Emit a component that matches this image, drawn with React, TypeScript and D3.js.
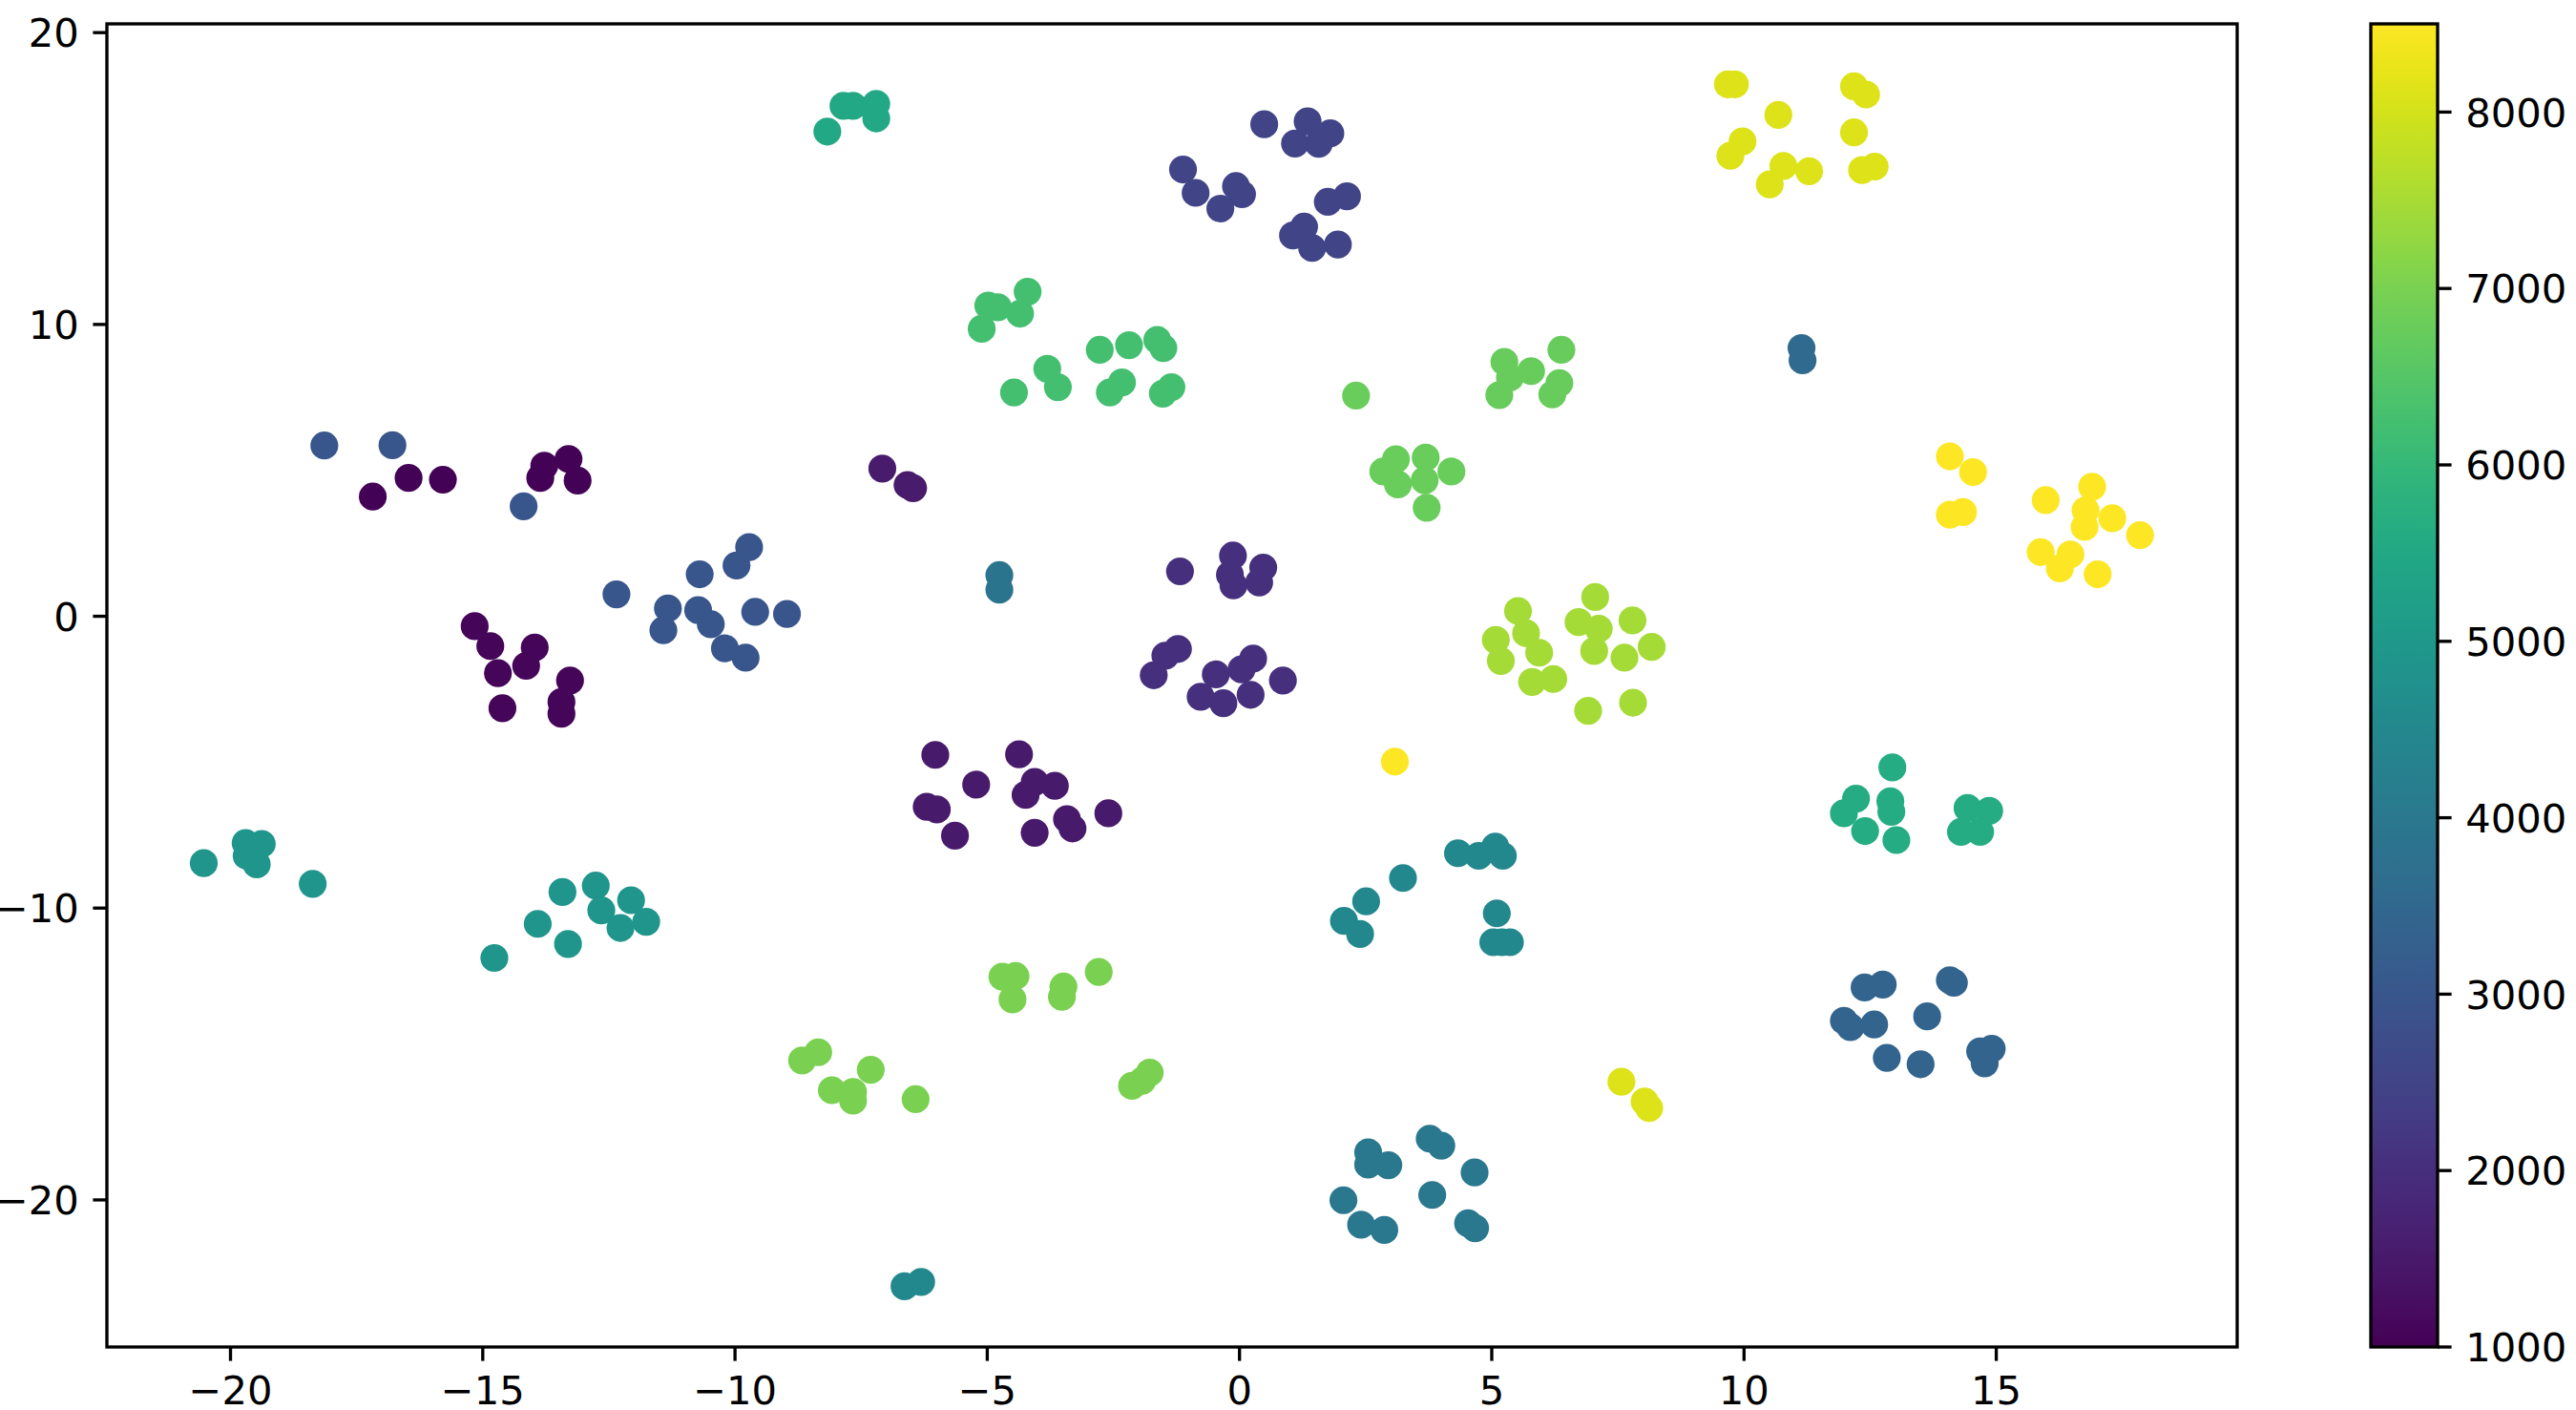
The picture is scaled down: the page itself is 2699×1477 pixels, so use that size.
import React from 'react';
import * as d3 from 'd3';

// t-SNE-like 2D embedding points (x, y) with a color value per point
const xValues = [
  -18.14, -16.79, -14.19,
  -17.18, -16.47, -15.79, -13.78, -13.86, -13.30, -13.12,
  -12.35, -11.33, -11.42, -10.70, -10.73, -10.48, -9.97, -9.72, -9.60, -8.97, -10.20, -9.79,
  -15.16, -14.85, -13.97, -14.70, -14.14, -13.27, -14.61, -13.44, -13.44,
  -20.53, -19.70, -19.38, -19.68, -19.48, -18.37,
  -13.42, -12.76, -12.06, -12.65, -13.91, -12.27, -11.76, -13.31, -14.77,
  -8.67, -8.35, -7.31, -8.08, -7.66, -7.66, -6.42,
  -4.70, -4.44, -4.50, -3.49, -3.52, -2.79,
  -2.13, -1.93, -1.78,
  -6.03, -4.37, -5.22, -4.06, -3.66, -4.24, -6.20, -6.00, -5.64, -3.42, -3.31, -4.06, -2.60,
  3.08,
  4.33, 4.74, 5.07, 5.22, 3.24, 2.51, 2.07, 2.39, 5.10, 5.03, 5.20, 5.36,
  3.77, 4.00, 2.55, 2.55, 2.95, 4.66, 2.06, 3.82, 2.41, 2.87, 4.53, 4.67,
  -6.64, -6.31,
  -8.17, -7.85, -7.66, -7.20, -7.20,
  0.49, 1.35, 1.10, 1.57, 1.80, -1.12, -0.87, -0.07, 0.05, -0.38, 1.75, 2.13, 1.28, 1.06, 1.44, 1.95,
  -4.98, -4.79, -4.20, -4.35, -5.11, -2.77, -2.19, -1.63, -1.51, -3.81, -3.60, -4.47, -2.33, -2.57, -1.35, -1.52,
  2.31, 3.10, 2.85, 3.14, 3.69, 3.67, 4.20, 3.71,
  5.25, 5.36, 5.15, 5.78, 6.38, 6.34, 6.20,
  -1.18, -0.13, -0.19, -0.12, 0.47, 0.39, -1.22, -1.47, -1.70, -0.47, 0.04, 0.27, 0.86, -0.77, -0.32, 0.22,
  -7.08, -6.58, -6.47,
  -4.76, -4.76,
  9.68, 9.82, 10.68, 9.97, 9.73, 10.78, 10.51, 11.29, 12.18, 12.42, 12.18, 12.34, 12.59,
  11.14, 11.16,
  14.08, 14.54, 14.08, 14.34, 15.98, 16.90, 16.77, 16.75, 17.30, 17.85, 15.88, 16.47, 16.26, 17.01,
  5.52, 5.68, 5.08, 5.18, 5.94, 5.80, 6.22, 7.05, 6.72, 7.12, 7.79, 7.03, 7.63, 8.17, 6.91, 7.80,
  12.94, 12.22, 11.98, 12.40, 12.90, 12.92, 13.02, 14.43, 14.86, 14.30, 14.68,
  12.39, 12.75, 14.08, 14.16, 11.98, 12.11, 12.58, 13.63, 12.83, 13.50, 14.68, 14.91, 14.77,
  7.57, 8.03, 8.12,
];

const yValues = [
  5.85, 5.86, 3.77,
  4.10, 4.74, 4.68, 5.16, 4.74, 5.39, 4.65,
  0.75, 0.27, -0.48, 1.44, 0.21, -0.27, 1.74, 2.37, 0.15, 0.08, -1.10, -1.42,
  -0.34, -1.02, -1.07, -1.95, -1.70, -2.20, -3.15, -2.94, -3.34,
  -8.46, -7.77, -7.80, -8.21, -8.50, -9.17,
  -9.45, -9.23, -9.73, -10.08, -10.54, -10.68, -10.47, -11.23, -11.71,
  -15.22, -14.94, -15.54, -16.24, -16.30, -16.60, -16.55,
  -12.35, -12.33, -13.13, -12.69, -13.04, -12.19,
  -16.09, -15.92, -15.64,
  -4.75, -4.73, -5.77, -5.68, -5.81, -6.12, -6.53, -6.62, -7.52, -6.95, -7.27, -7.42, -6.75,
  -4.98,
  -8.12, -8.21, -7.89, -8.21, -8.97, -9.77, -10.44, -10.89, -10.18, -11.17, -11.17, -11.17,
  -17.90, -18.14, -18.37, -18.79, -18.81, -19.06, -20.01, -19.83, -20.85, -21.03, -20.80, -20.97,
  -22.96, -22.81,
  16.61, 17.49, 17.49, 17.56, 17.06,
  16.86, 16.96, 16.20, 16.19, 16.55, 15.31, 14.51, 14.74, 14.46, 13.97, 14.20, 14.39, 13.35, 13.05, 12.62, 12.74,
  10.65, 10.59, 11.12, 10.37, 9.85, 9.13, 9.29, 9.47, 9.19, 8.48, 7.85, 7.67, 8.01, 7.67, 7.85, 7.63,
  7.56, 5.38, 4.96, 4.52, 5.44, 4.66, 4.96, 3.72,
  8.72, 8.18, 7.58, 8.40, 9.13, 7.99, 7.60,
  1.54, 2.08, 1.42, 1.06, 1.67, 1.16, -1.12, -1.35, -2.02, -1.99, -1.82, -1.45, -2.20, -2.76, -2.98, -2.69,
  5.06, 4.50, 4.39,
  1.41, 0.91,
  18.23, 18.23, 17.18, 16.27, 15.78, 15.43, 14.80, 15.25, 18.16, 17.88, 16.58, 15.29, 15.41,
  9.19, 8.77,
  5.48, 4.94, 3.48, 3.57, 3.98, 4.44, 3.63, 3.06, 3.36, 2.78, 2.20, 2.12, 1.64, 1.44,
  0.18, -0.58, -0.81, -1.53, -1.25, -2.25, -2.15, 0.66, -0.20, -0.43, -0.14, -1.19, -1.42, -1.05, -3.24, -2.96,
  -5.18, -6.25, -6.75, -7.36, -6.34, -6.70, -7.67, -6.57, -6.67, -7.39, -7.39,
  -12.72, -12.62, -12.47, -12.56, -13.86, -14.08, -13.99, -13.71, -15.13, -15.35, -14.91, -14.82, -15.32,
  -15.95, -16.63, -16.85,
];

const colorValues = [
  3000, 3000, 3000,
  1050, 1050, 1050, 1050, 1050, 1050, 1050,
  3000, 3000, 3000, 3000, 3000, 3000, 3000, 3000, 3000, 3000, 3000, 3000,
  1100, 1100, 1100, 1100, 1100, 1100, 1100, 1100, 1100,
  4900, 4900, 4900, 4900, 4900, 4900,
  4900, 4900, 4900, 4900, 4900, 4900, 4900, 4900, 4900,
  7000, 7000, 7000, 7000, 7000, 7000, 7000,
  7000, 7000, 7000, 7000, 7000, 7000,
  7000, 7000, 7000,
  1500, 1500, 1500, 1500, 1500, 1500, 1500, 1500, 1500, 1500, 1500, 1500, 1500,
  8500,
  4500, 4500, 4500, 4500, 4500, 4500, 4500, 4500, 4500, 4500, 4500, 4500,
  4000, 4000, 4000, 4000, 4000, 4000, 4000, 4000, 4000, 4000, 4000, 4000,
  4500, 4500,
  5500, 5500, 5500, 5500, 5500,
  2500, 2500, 2500, 2500, 2500, 2500, 2500, 2500, 2500, 2500, 2500, 2500, 2500, 2500, 2500, 2500,
  6250, 6250, 6250, 6250, 6250, 6250, 6250, 6250, 6250, 6250, 6250, 6250, 6250, 6250, 6250, 6250,
  6800, 6800, 6800, 6800, 6800, 6800, 6800, 6800,
  6750, 6750, 6750, 6750, 6750, 6750, 6750,
  2050, 2050, 2050, 2050, 2050, 2050, 2050, 2050, 2050, 2050, 2050, 2050, 2050, 2050, 2050, 2050,
  1550, 1550, 1550,
  3900, 3900,
  8100, 8100, 8100, 8100, 8100, 8100, 8100, 8100, 8100, 8100, 8100, 8100, 8100,
  3550, 3550,
  8500, 8500, 8500, 8500, 8500, 8500, 8500, 8500, 8500, 8500, 8500, 8500, 8500, 8500,
  7500, 7500, 7500, 7500, 7500, 7500, 7500, 7500, 7500, 7500, 7500, 7500, 7500, 7500, 7500, 7500,
  5600, 5600, 5600, 5600, 5600, 5600, 5600, 5600, 5600, 5600, 5600,
  3400, 3400, 3400, 3400, 3400, 3400, 3400, 3400, 3400, 3400, 3400, 3400, 3400,
  8100, 8100, 8100,
];

const xTicks = [-20, -15, -10, -5, 0, 5, 10, 15];
const yTicks = [-20, -10, 0, 10, 20];
const colorTicks = [1000, 2000, 3000, 4000, 5000, 6000, 7000, 8000];

const xDomain = [-22.45, 19.775];
const yDomain = [-25.04, 20.3];
const colorDomain = [1000, 8500];

export default function App() {
  const W = 2699;
  const H = 1477;
  const left = 112, right = 2344, top = 25, bottom = 1411;
  const cbLeft = 2484, cbRight = 2554;
  const fontSize = 41.67;
  const tickLen = 14.6;
  const pad = 14.6;
  const lw = 3.33;
  const r = 14.6;

  const x = d3.scaleLinear().domain(xDomain).range([left, right]);
  const y = d3.scaleLinear().domain(yDomain).range([bottom, top]);
  const cb = d3.scaleLinear().domain(colorDomain).range([bottom, top]);
  const color = d3.scaleSequential(d3.interpolateViridis).domain(colorDomain);
  const fmt = d3.format('d');

  const points = xValues.map((xv, i) => ({ x: xv, y: yValues[i], v: colorValues[i] }));
  const stops = d3.range(0, 1.0001, 0.02);

  return (
    <svg
      width={W}
      height={H}
      viewBox={`0 0 ${W} ${H}`}
      style={{ position: 'absolute', left: 0, top: 0, background: '#fff' }}
      fontFamily="'DejaVu Sans', sans-serif"
    >
      <defs>
        <clipPath id="plotClip">
          <rect x={left} y={top} width={right - left} height={bottom - top} />
        </clipPath>
        <linearGradient id="viridisGrad" x1="0" y1="1" x2="0" y2="0">
          {stops.map((t) => (
            <stop key={t} offset={`${t * 100}%`} stopColor={d3.interpolateViridis(t)} />
          ))}
        </linearGradient>
      </defs>
      <rect x={0} y={0} width={W} height={H} fill="#fff" />

      <g clipPath="url(#plotClip)">
        {points.map((p, i) => (
          <circle key={i} cx={x(p.x)} cy={y(p.y)} r={r} fill={color(p.v)} />
        ))}
      </g>

      <rect x={left} y={top} width={right - left} height={bottom - top} fill="none" stroke="#000" strokeWidth={lw} />

      {xTicks.map((t) => (
        <g key={`xt${t}`}>
          <line x1={x(t)} x2={x(t)} y1={bottom} y2={bottom + tickLen} stroke="#000" strokeWidth={lw} />
          <text x={x(t)} y={bottom + tickLen + pad + 30.5} fontSize={fontSize} textAnchor="middle" fill="#000">
            {fmt(t)}
          </text>
        </g>
      ))}

      {yTicks.map((t) => (
        <g key={`yt${t}`}>
          <line x1={left - tickLen} x2={left} y1={y(t)} y2={y(t)} stroke="#000" strokeWidth={lw} />
          <text x={left - tickLen - pad} y={y(t) + 15.2} fontSize={fontSize} textAnchor="end" fill="#000">
            {fmt(t)}
          </text>
        </g>
      ))}

      <rect x={cbLeft} y={top} width={cbRight - cbLeft} height={bottom - top} fill="url(#viridisGrad)" />
      <rect x={cbLeft} y={top} width={cbRight - cbLeft} height={bottom - top} fill="none" stroke="#000" strokeWidth={lw} />
      {colorTicks.map((t) => (
        <g key={`ct${t}`}>
          <line x1={cbRight} x2={cbRight + tickLen} y1={cb(t)} y2={cb(t)} stroke="#000" strokeWidth={lw} />
          <text x={cbRight + tickLen + pad} y={cb(t) + 15.2} fontSize={fontSize} textAnchor="start" fill="#000">
            {fmt(t)}
          </text>
        </g>
      ))}
    </svg>
  );
}
